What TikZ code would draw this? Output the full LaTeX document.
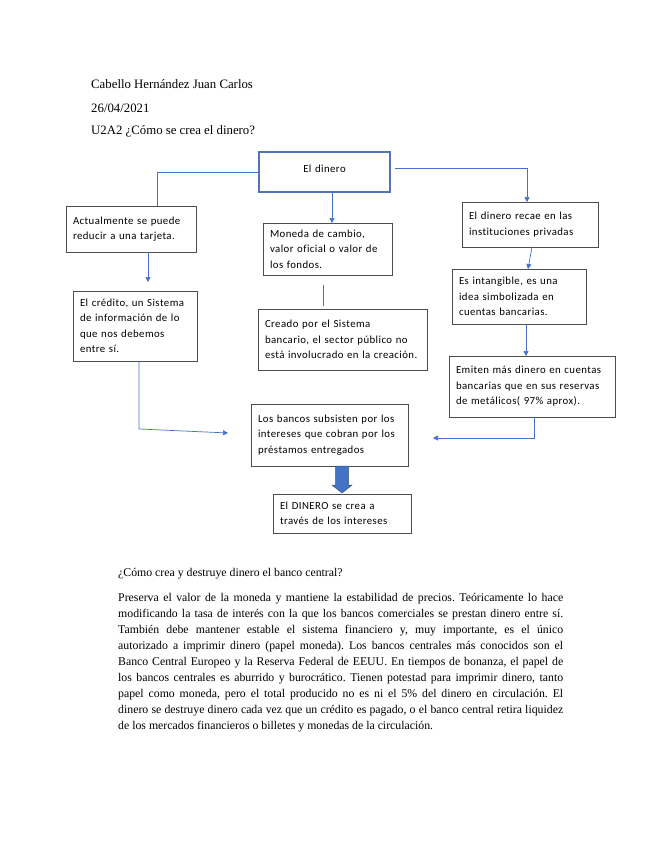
\documentclass[tikz,border=0pt]{standalone}
\usepackage{fontspec}
\setmainfont{Liberation Serif}
\newfontfamily\boxfont[LetterSpace=4,Ligatures=CommonOff]{Carlito}
\usetikzlibrary{arrows.meta,calc}
\definecolor{linkblue}{HTML}{4472C4}
\definecolor{frameblue}{HTML}{5275BA}
\definecolor{edgeblue}{HTML}{2F528F}
\definecolor{framegray}{HTML}{4D4D4D}
\frenchspacing

\begin{document}
\begin{tikzpicture}[
    x=1pt, y=-1pt,
    box/.style 2 args={draw=framegray, line width=0.8pt, anchor=north west,
                align=left, text width=#1, minimum height=#2,
                inner xsep=7pt, inner ysep=3pt, outer sep=0pt,
                font=\boxfont\fontsize{10.8pt}{15.5pt}\selectfont},
    conn/.style={linkblue, line width=0.7pt},
    arr/.style={conn, -{Triangle[length=5pt,width=5pt]}},
    head/.style={anchor=west, inner sep=0pt, font=\fontsize{12.8pt}{15pt}\selectfont},
    block/.style={fill=linkblue, draw=edgeblue, line width=0.5pt}
  ]
  \useasboundingbox[fill=white] (0,0) rectangle (655,848);

  % encabezado
  \node[head] (autor) at (91,84) {Cabello Hernández Juan Carlos};
  \node[head] (fecha) at (91,108) {26/04/2021};
  \node[head] (tema) at (91,131) {U2A2 ¿Cómo se crea el dinero?};

  % mapa
  \node[box={117pt}{40pt}, draw=frameblue, line width=1.4pt, align=center,
        text depth=6pt] (dinero) at (259,152) {El dinero};
  \node[box={116pt}{46pt}] (tarjeta) at (66,206) {Actualmente se puede\\reducir a una tarjeta.};
  \node[box={115pt}{52pt}] (moneda) at (263,223) {Moneda de cambio,\\valor oficial o valor de\\los fondos.};
  \node[box={122pt}{45pt}] (recae) at (462,202) {El dinero recae en las\\instituciones privadas};
  \node[box={110pt}{70pt}] (credito) at (73,291) {El crédito, un Sistema\\de información de lo\\que nos debemos\\entre sí.};
  \node[box={155pt}{61pt}] (creado) at (258,309) {Creado por el Sistema\\bancario, el sector público no\\está involucrado en la creación.};
  \node[box={120pt}{55pt}] (intang) at (452,269) {Es intangible, es una\\idea simbolizada en\\cuentas bancarias.};
  \node[box={152pt}{61pt}] (emiten) at (449,356) {Emiten más dinero en cuentas\\bancarias que en sus reservas\\de metálicos( 97\% aprox).};
  \node[box={143pt}{62pt}] (bancos) at (251,404) {Los bancos subsisten por los\\intereses que cobran por los\\préstamos entregados};
  \node[box={124pt}{39pt}] (final) at (273,494) {El DINERO se crea a\\través de los intereses};

  \draw[conn] (dinero.west) -| ([xshift=26pt]tarjeta.north);
  \draw[arr] ([xshift=7.5pt]dinero.south) -- ([xshift=4.5pt]moneda.north);
  \draw[arr] ([xshift=5pt,yshift=4pt]dinero.east) -| ([xshift=-3pt]recae.north);
  \draw[arr] ([xshift=2pt]recae.south) -- ([xshift=9pt]intang.north);
  \draw[arr] ([xshift=7pt]intang.south) -- ([xshift=-6pt]emiten.north);
  \draw[arr] ([xshift=2pt]emiten.south) |- ([xshift=25pt,yshift=-3pt]bancos.east);
  \draw[arr] ([xshift=17pt]tarjeta.south) -- ([xshift=13pt,yshift=9pt]credito.north);
  \draw[arr] ([xshift=4pt]credito.south) -- ++(0,68) -- ([xshift=-23pt,yshift=2pt]bancos.west);
  \draw[conn] ([xshift=-4.5pt,yshift=-10pt]moneda.south) -- ([xshift=-19.5pt,yshift=3pt]creado.north);
  \filldraw[block] ($(bancos.south -| final.north)+(-6.5,0)$) -- ++(13,0) -- ++(0,19)
    -- ++(3.5,0) -- ($(final.north)+(0,-1)$) -- ++(-10,-8) -- ++(3.5,0) -- cycle;

  % texto
  \node[anchor=west, inner sep=0pt, font=\fontsize{11.8pt}{16pt}\selectfont] (pregunta) at (118,574)
    {¿Cómo crea y destruye dinero el banco central?};
  \node[anchor=north west, inner sep=0pt, text width=445pt, align=justify,
        font=\fontsize{11.8pt}{16pt}\selectfont] (cuerpo) at (118,593)
    {Preserva el valor de la moneda y mantiene la estabilidad de precios. Teóricamente lo hace\linebreak
     modificando la tasa de interés con la que los bancos comerciales se prestan dinero entre sí.\linebreak
     También debe mantener estable el sistema financiero y, muy importante, es el único\linebreak
     autorizado a imprimir dinero (papel moneda). Los bancos centrales más conocidos son el\linebreak
     Banco Central Europeo y la Reserva Federal de EEUU. En tiempos de bonanza, el papel de\linebreak
     los bancos centrales es aburrido y burocrático. Tienen potestad para imprimir dinero, tanto\linebreak
     papel como moneda, pero el total producido no es ni el 5\% del dinero en circulación. El\linebreak
     dinero se destruye dinero cada vez que un crédito es pagado, o el banco central retira liquidez\linebreak
     de los mercados financieros o billetes y monedas de la circulación.};
\end{tikzpicture}
\end{document}
